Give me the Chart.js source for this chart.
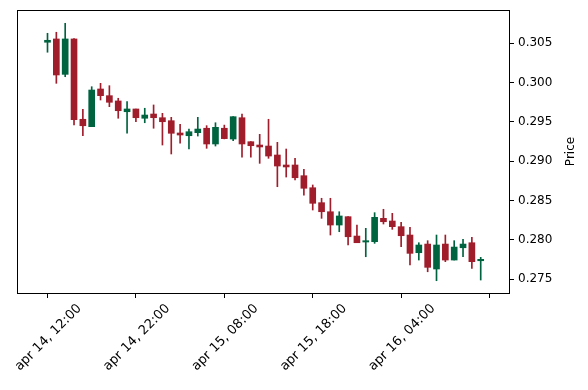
<!DOCTYPE html>
<html>
<head>
<meta charset="utf-8">
<script src="https://cdn.jsdelivr.net/npm/chart.js@4/dist/chart.umd.min.js"></script>
<style>
  html, body { margin: 0; padding: 0; background: #fff; }
  #wrap { width: 588px; height: 390px; }
</style>
</head>
<body>
<div id="wrap"><canvas id="chart"></canvas></div>
<script>
// hourly candles, apr 14 12:00 -> apr 16 13:00
const opens = [
  0.30513, 0.30555, 0.30105, 0.30555, 0.29534, 0.29440, 0.29919, 0.29834, 0.29767, 0.29630,
  0.29665, 0.29547, 0.29601, 0.29554, 0.29516, 0.29360, 0.29325, 0.29364, 0.29420, 0.29220,
  0.29420, 0.29283, 0.29554, 0.29249, 0.29207, 0.29194, 0.29080, 0.28953, 0.28953, 0.28817,
  0.28664, 0.28474, 0.28359, 0.28190, 0.28296, 0.28050, 0.27974, 0.27978, 0.28275, 0.28241,
  0.28169, 0.28063, 0.27838, 0.27948, 0.27631, 0.27948, 0.27745, 0.27901, 0.27965, 0.27736
];
const highs = [
  0.30627, 0.30640, 0.30754, 0.30560, 0.29661, 0.29948, 0.29991, 0.29961, 0.29801, 0.29758,
  0.29665, 0.29674, 0.29716, 0.29610, 0.29559, 0.29470, 0.29410, 0.29559, 0.29453, 0.29490,
  0.29460, 0.29567, 0.29601, 0.29250, 0.29343, 0.29534, 0.29241, 0.29156, 0.29038, 0.28898,
  0.28699, 0.28530, 0.28530, 0.28359, 0.28296, 0.28190, 0.28148, 0.28347, 0.28390, 0.28339,
  0.28224, 0.28161, 0.27965, 0.27991, 0.28063, 0.28063, 0.27991, 0.28008, 0.28034, 0.27779
];
const lows = [
  0.30386, 0.29991, 0.30075, 0.29461, 0.29325, 0.29440, 0.29779, 0.29694, 0.29547, 0.29356,
  0.29503, 0.29490, 0.29420, 0.29207, 0.29093, 0.29229, 0.29156, 0.29321, 0.29165, 0.29194,
  0.29285, 0.29262, 0.29051, 0.29051, 0.28974, 0.29038, 0.28677, 0.28800, 0.28762, 0.28571,
  0.28381, 0.28275, 0.28063, 0.28105, 0.27936, 0.27965, 0.27787, 0.27957, 0.28203, 0.28135,
  0.27914, 0.27682, 0.27745, 0.27596, 0.27482, 0.27724, 0.27745, 0.27787, 0.27640, 0.27491
];
const closes = [
  0.30538, 0.30097, 0.30555, 0.29529, 0.29452, 0.29906, 0.29834, 0.29750, 0.29643, 0.29665,
  0.29554, 0.29588, 0.29554, 0.29503, 0.29356, 0.29334, 0.29376, 0.29410, 0.29220, 0.29432,
  0.29288, 0.29567, 0.29220, 0.29198, 0.29182, 0.29067, 0.28940, 0.28928, 0.28791, 0.28657,
  0.28466, 0.28359, 0.28190, 0.28305, 0.28041, 0.27965, 0.27991, 0.28288, 0.28232, 0.28169,
  0.28054, 0.27830, 0.27936, 0.27652, 0.27936, 0.27745, 0.27910, 0.27948, 0.27724, 0.27754
];

const xTickPos = [0, 10, 20, 30, 40, 50];
const xTickLabels = ["apr 14, 12:00", "apr 14, 22:00", "apr 15, 08:00", "apr 15, 18:00", "apr 16, 04:00", ""];
const yTicks = [0.275, 0.280, 0.285, 0.290, 0.295, 0.300, 0.305];

const UP = "#006340";
const DOWN = "#a01d2b";
const candleColors = opens.map((o, i) => closes[i] >= o ? UP : DOWN);

const bodies = opens.map((o, i) => ({ x: i, y: [Math.min(o, closes[i]), Math.max(o, closes[i])] }));
const wicks = opens.map((o, i) => ({ x: i, y: [lows[i], highs[i]] }));

Chart.defaults.font.family = '"DejaVu Sans", sans-serif';
Chart.defaults.font.size = 12;
Chart.defaults.color = "#000";

// box around the plot + rotated axis title
const framePlugin = {
  id: "frame",
  afterDraw(chart) {
    const { ctx, chartArea: a } = chart;
    ctx.save();
    ctx.strokeStyle = "#000";
    ctx.lineWidth = 1;
    ctx.strokeRect(a.left + 0.5, a.top + 0.5, a.right - a.left, a.bottom - a.top);
    ctx.translate(571, (a.top + a.bottom) / 2);
    ctx.rotate(-Math.PI / 2);
    ctx.fillStyle = "#000";
    ctx.textAlign = "center";
    ctx.textBaseline = "middle";
    ctx.font = '12px "DejaVu Sans"';
    ctx.fillText("Price", 0, 0);
    ctx.restore();
  }
};

new Chart(document.getElementById("chart"), {
  type: "bar",
  data: {
    datasets: [
      {
        label: "wick",
        data: wicks,
        backgroundColor: candleColors,
        barThickness: 1,
        order: 2
      },
      {
        label: "body",
        data: bodies,
        backgroundColor: candleColors,
        barThickness: 6,
        order: 1
      }
    ]
  },
  options: {
    responsive: true,
    maintainAspectRatio: false,
    animation: false,
    grouped: false,
    layout: { padding: { left: 17, top: 10, right: 0, bottom: 0 } },
    plugins: {
      legend: { display: false },
      tooltip: { enabled: false }
    },
    scales: {
      x: {
        type: "linear",
        offset: false,
        min: -3.45,
        max: 52.2,
        grid: { offset: false, drawOnChartArea: false, drawTicks: true, tickLength: 5, color: "#000" },
        border: { display: true, color: "#000" },
        afterBuildTicks: (scale) => { scale.ticks = xTickPos.map(v => ({ value: v })); },
        afterFit: (scale) => {
          scale.height = 97;
          scale.paddingLeft = 0;
          scale.paddingRight = 0;
        },
        ticks: {
          autoSkip: false,
          minRotation: 45,
          maxRotation: 45,
          labelOffset: 32,
          padding: 3,
          font: { size: 13 },
          callback: (value) => xTickLabels[xTickPos.indexOf(value)]
        }
      },
      y: {
        position: "right",
        min: 0.27326,
        max: 0.30923,
        grid: { drawOnChartArea: false, drawTicks: true, tickLength: 5, color: "#000" },
        border: { display: true, color: "#000" },
        afterBuildTicks: (scale) => { scale.ticks = yTicks.map(v => ({ value: v })); },
        afterFit: (scale) => {
          scale.width = 79;
          scale.paddingTop = 0;
          scale.paddingBottom = 0;
        },
        ticks: {
          padding: 4,
          callback: (value) => value.toFixed(3)
        }
      }
    }
  },
  plugins: [framePlugin]
});
</script>
</body>
</html>
